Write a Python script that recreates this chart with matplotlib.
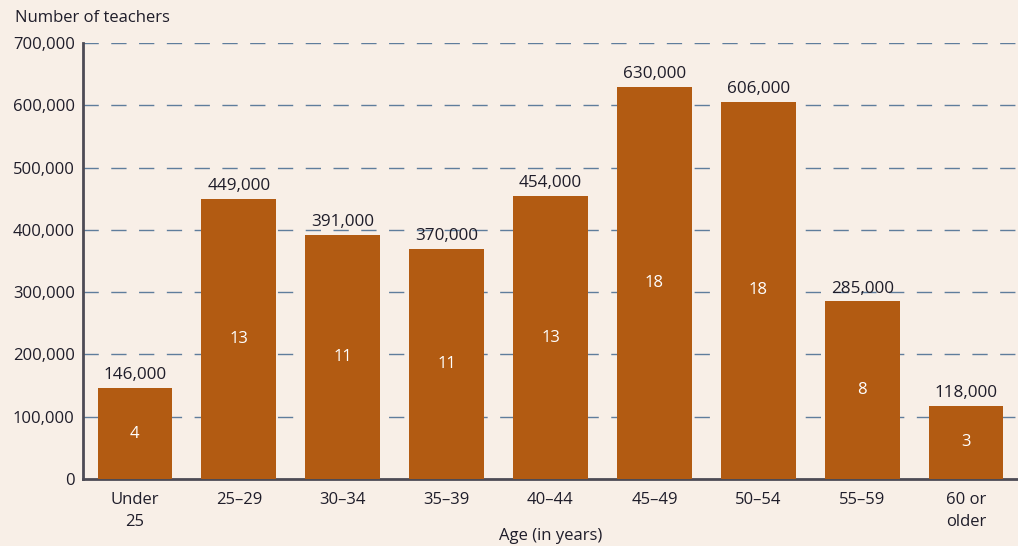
import matplotlib.pyplot as plt
import numpy as np

ages = ['Under\n25', '25–29', '30–34', '35–39', '40–44', '45–49', '50–54', '55–59', '60 or\nolder']
teachers = [146000, 449000, 391000, 370000, 454000, 630000, 606000, 285000, 118000]
percents = [4, 13, 11, 11, 13, 18, 18, 8, 3]

bg = '#f8efe7'
bar_col = '#b25b12'
txt = '#1f1d2a'

plt.rcParams['font.family'] = ['Open Sans', 'DejaVu Sans']

fig = plt.figure(figsize=(10.18, 5.46), dpi=100, facecolor=bg)
ax = fig.add_axes([0.0815, 0.1227, 0.9185, 0.7985])
ax.set_facecolor(bg)

x = np.arange(len(ages))
ax.bar(x, teachers, width=0.72, color=bar_col, zorder=3)

for xi, v, p in zip(x, teachers, percents):
    ax.text(xi, v + 8000, f'{v:,}', ha='center', va='bottom', fontsize=12.3, color=txt)
    ax.text(xi, v / 2, str(p), ha='center', va='center', fontsize=12, color='white')

ax.set_xlim(-0.5, 8.5)
ax.set_ylim(0, 700000)
ax.set_yticks(range(0, 700001, 100000))
ax.set_yticklabels([f'{t:,}' for t in range(0, 700001, 100000)], fontsize=12, color=txt)
ax.set_xticks(x)
ax.set_xticklabels(ages, fontsize=12, color=txt, linespacing=1.5)
ax.tick_params(axis='both', length=0, pad=6)
ax.tick_params(axis='x', pad=9)

for t in range(100000, 700001, 100000):
    ax.axhline(t, color='#5f7d9c', lw=1, ls=(0, (11, 9)), zorder=1)

for s in ['top', 'right']:
    ax.spines[s].set_visible(False)
for s in ['left', 'bottom']:
    ax.spines[s].set_color('#4d4b55')
    ax.spines[s].set_linewidth(2)

ax.set_xlabel('Age (in years)', fontsize=12, color=txt, labelpad=-1)
fig.text(15 / 1018, 1 - 18 / 546, 'Number of teachers', fontsize=12, color=txt, va='center', ha='left')

fig.savefig('out.png', dpi=100, facecolor=bg)
